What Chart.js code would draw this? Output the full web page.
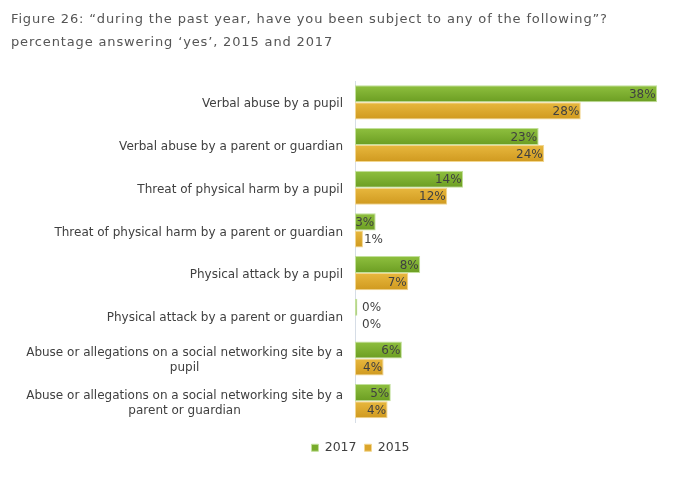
<!DOCTYPE html>
<html>
<head>
<meta charset="utf-8">
<script src="https://cdn.jsdelivr.net/npm/chart.js@4"></script>
<style>
  body { margin: 0; background: #fff; }
  #wrap { width: 676px; height: 485px; }
</style>
</head>
<body>
<div id="wrap"><canvas id="chart" width="676" height="485"></canvas></div>
<script>
const titleLines = [
    "Figure 26: \u201cduring the past year, have you been subject to any of the following\u201d?",
    "percentage answering \u2018yes\u2019, 2015 and 2017",
];
const categories = [
    ["Verbal abuse by a pupil"],
    ["Verbal abuse by a parent or guardian"],
    ["Threat of physical harm by a pupil"],
    ["Threat of physical harm by a parent or guardian"],
    ["Physical attack by a pupil"],
    ["Physical attack by a parent or guardian"],
    ["Abuse or allegations on a social networking site by a", "pupil"],
    ["Abuse or allegations on a social networking site by a", "parent or guardian"],
];
const values2017 = [38, 23.1, 13.6, 2.6, 8.2, 0.3, 5.9, 4.5];
const values2015 = [28.4, 23.8, 11.6, 1, 6.7, 0, 3.6, 4.1];
const seriesNames = ["2017", "2015"];

const labelFont = "12px 'DejaVu Sans'";
const textColor = "#404040";
const barShades = [
    ["#8fc03f", "#6b9d22"],
    ["#e8b83e", "#cf991f"],
];

// title drawn by hand so it can get the letter spacing of the original
const titleText = {
    id: "titleText",
    afterDraw(chart) {
        const { ctx } = chart;
        ctx.save();
        ctx.font = "13px 'DejaVu Sans'";
        ctx.letterSpacing = "0.85px";
        ctx.fillStyle = "#555";
        ctx.textAlign = "left";
        ctx.textBaseline = "middle";
        ctx.fillText(titleLines[0], 11, 20);
        ctx.fillText(titleLines[1], 11, 43);
        ctx.restore();
    },
};

// vertical gradient on every bar (own options object per bar, they are shared otherwise)
const barGradient = {
    id: "barGradient",
    beforeDatasetsDraw(chart) {
        const { ctx } = chart;
        chart.data.datasets.forEach((ds, di) => {
            chart.getDatasetMeta(di).data.forEach(bar => {
                const g = ctx.createLinearGradient(0, bar.y - bar.height / 2, 0, bar.y + bar.height / 2);
                g.addColorStop(0, barShades[di][0]);
                g.addColorStop(1, barShades[di][1]);
                bar.options = Object.assign({}, bar.options, { backgroundColor: g });
            });
        });
    },
};

// category labels: single lines right aligned, wrapped lines centered on the longest
const categoryLabels = {
    id: "categoryLabels",
    afterDraw(chart) {
        const { ctx, scales: { y } } = chart;
        ctx.save();
        ctx.font = labelFont;
        ctx.fillStyle = textColor;
        ctx.textBaseline = "middle";
        const right = y.right - 12;
        categories.forEach((lines, i) => {
            const cy = y.getPixelForTick(i) + 2;
            const lh = 15;
            const maxW = Math.max(...lines.map(l => ctx.measureText(l).width));
            lines.forEach((line, j) => {
                const ly = cy + (j - (lines.length - 1) / 2) * lh;
                if (lines.length === 1) {
                    ctx.textAlign = "right";
                    ctx.fillText(line, right, ly);
                } else {
                    ctx.textAlign = "center";
                    ctx.fillText(line, right - maxW / 2, ly);
                }
            });
        });
        ctx.restore();
    },
};

// value labels at the end of each bar
const valueLabels = {
    id: "valueLabels",
    afterDatasetsDraw(chart) {
        const { ctx } = chart;
        ctx.save();
        ctx.font = labelFont;
        ctx.fillStyle = textColor;
        ctx.textBaseline = "middle";
        chart.data.datasets.forEach((ds, di) => {
            chart.getDatasetMeta(di).data.forEach((bar, i) => {
                const txt = Math.round(ds.data[i]) + "%";
                const w = ctx.measureText(txt).width;
                const barW = bar.x - bar.base;
                if (barW >= w + 1) {
                    ctx.textAlign = "right";
                    ctx.fillText(txt, bar.x - 1.5, bar.y + 1);
                } else {
                    ctx.textAlign = "left";
                    ctx.fillText(txt, Math.max(bar.x, bar.base + 6) + 1, bar.y + 1);
                }
            });
        });
        ctx.restore();
    },
};

// move the legend under the plot like in the original
const legendShift = {
    id: "legendShift",
    afterLayout(chart) {
        const lg = chart.legend;
        lg.left += 24;
        lg.right += 24;
        lg.top += 11;
        lg.bottom += 11;
    },
};

new Chart(document.getElementById("chart"), {
    type: "bar",
    data: {
        labels: categories.map(c => c.join(" ")),
        datasets: [
            {
                label: seriesNames[0],
                data: values2017,
                backgroundColor: "#78ab2b",
                borderColor: "#c2e09a",
                borderWidth: 1,
                borderSkipped: false,
                barPercentage: 1.0,
                categoryPercentage: 0.8,
            },
            {
                label: seriesNames[1],
                data: values2015,
                backgroundColor: "#dba52b",
                borderColor: "#f2d690",
                borderWidth: 1,
                borderSkipped: false,
                barPercentage: 1.0,
                categoryPercentage: 0.8,
            },
        ],
    },
    options: {
        indexAxis: "y",
        responsive: false,
        animation: false,
        layout: { padding: { left: 0, right: 3, top: 81, bottom: 32 } },
        scales: {
            x: {
                min: 0,
                max: 40,
                display: false,
            },
            y: {
                grid: { display: false, drawTicks: false },
                border: { color: "#d6dde6", width: 1 },
                ticks: { display: false },
                afterFit(scale) {
                    scale.width = 355;
                },
            },
        },
        plugins: {
            title: { display: false },
            legend: {
                position: "bottom",
                labels: {
                    color: textColor,
                    font: { family: "DejaVu Sans", size: 12.5 },
                    boxWidth: 7,
                    boxHeight: 7,
                    padding: 8,
                },
            },
            tooltip: { enabled: false },
        },
    },
    plugins: [titleText, barGradient, categoryLabels, valueLabels, legendShift],
});
</script>
</body>
</html>
